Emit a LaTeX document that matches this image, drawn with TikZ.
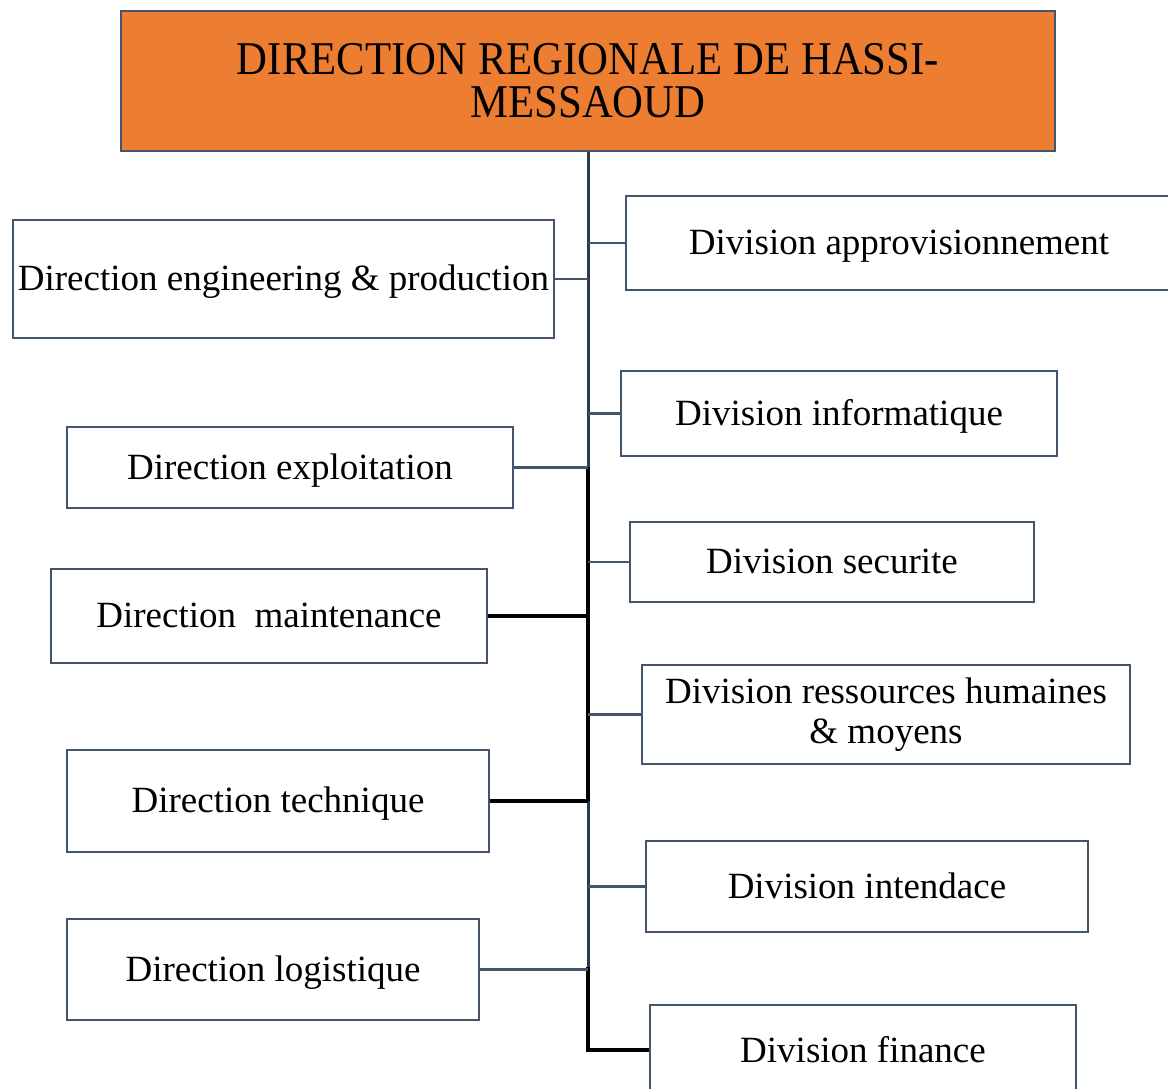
\documentclass[tikz,border=0pt]{standalone}
\usepackage{fontspec}
\setmainfont{Liberation Serif}
\newfontfamily\condfont[FakeStretch=0.91]{Liberation Serif}
\definecolor{slate}{HTML}{44546A}
\definecolor{darkslate}{HTML}{2B3A4E}
\definecolor{orgfill}{HTML}{ED7D31}
\tikzset{
  box/.style={draw=slate, line width=2.2pt, fill=white, inner sep=0pt,
    font=\fontsize{37}{39}\selectfont},
  onel/.style={text height=30pt, text depth=6.6pt},
  topbox/.style={draw=slate, line width=2.6pt, fill=orgfill, inner sep=0pt, align=center,
    font=\condfont\fontsize{47}{43}\selectfont},
  link/.style={draw=slate, line width=2.4pt},
  blink/.style={draw=black, line width=3.6pt},
  trunkseg/.style={draw=darkslate, line width=3pt},
}
\begin{document}
\begin{tikzpicture}[x=1pt,y=-1pt]
\useasboundingbox (0,0) rectangle (1168,1088);
\fill[white] (0,0) rectangle (1168,1088);
% top box
\node[topbox, minimum width=934, minimum height=140] (top) at (588,81) {DIRECTION REGIONALE DE HASSI-\\MESSAOUD};
% left boxes
\node[box, onel, minimum width=541, minimum height=118] (eng) at (283.5,279) {Direction engineering \& production};
\node[box, onel, minimum width=446, minimum height=81] (exp) at (290,467.5) {Direction exploitation};
\node[box, onel, minimum width=436, minimum height=94] (mai) at (269,616) {Direction\ \ maintenance};
\node[box, onel, minimum width=422, minimum height=102] (tec) at (278,801) {Direction technique};
\node[box, onel, minimum width=412, minimum height=101] (log) at (273,969.5) {Direction logistique};
% right boxes
\node[box, onel, minimum width=546, minimum height=94] (app) at (899,243) {Division approvisionnement};
\node[box, onel, minimum width=436, minimum height=85] (inf) at (839,413.5) {Division informatique};
\node[box, onel, minimum width=404, minimum height=80] (sec) at (832,562) {Division securite};
\node[box, align=center, minimum width=488, minimum height=99, font=\fontsize{37}{40}\selectfont] (rh) at (886,714.5) {Division ressources humaines\\\& moyens};
\node[box, onel, minimum width=442, minimum height=91] (int) at (867,886.5) {Division intendace};
\node[box, onel, minimum width=426, minimum height=92] (fin) at (863,1051) {Division finance};
% trunk coordinates
\coordinate (t0) at (588,152);
\coordinate (t1) at (588,467);
\coordinate (t2) at (588,801);
\coordinate (t3) at (588,969);
\coordinate (t4) at (588,1050);
\draw[trunkseg] (top.south -| t0) -- (t1);
\draw[trunkseg] (t2) -- (t3);
\draw[blink] (t1) -- (t2);
\draw[blink, line cap=rect] (t3) -- (t4);
% left connectors
\draw[link] (eng.east) -- (eng.east -| t0);
\draw[link] (exp.east) -- (exp.east -| t0);
\draw[blink] (mai.east) -- (mai.east -| t0);
\draw[blink] (tec.east) -- (tec.east -| t0);
\draw[link] (log.east) -- (log.east -| t0);
% right connectors
\draw[link] (app.west) -- (app.west -| t0);
\draw[link] (inf.west) -- (inf.west -| t0);
\draw[link] (sec.west) -- (sec.west -| t0);
\draw[link] (rh.west) -- (rh.west -| t0);
\draw[link] (int.west) -- (int.west -| t0);
\draw[blink] (t4) -- (fin.west |- t4);
\end{tikzpicture}
\end{document}
